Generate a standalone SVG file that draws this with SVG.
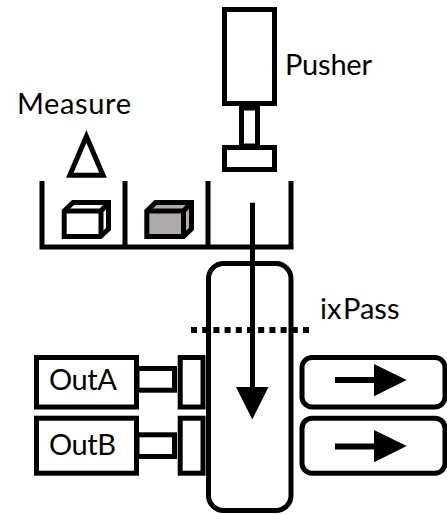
<svg xmlns="http://www.w3.org/2000/svg" width="447" height="514" viewBox="0 0 447 514">
<style>
.s{fill:#fff;stroke:#000;stroke-width:5}
.l{fill:none;stroke:#000;stroke-width:5}
.a{fill:none;stroke:#000;stroke-width:6}
.t{font-family:Lato,"Open Sans",sans-serif;font-size:29px;fill:#000}
</style>
<rect width="447" height="514" fill="#fff"/>
<g id="pusher">
<rect class="s" x="224.5" y="9.5" width="50" height="94"/>
<rect class="s" x="241.5" y="108" width="16" height="38"/>
<rect class="s" x="224.5" y="147.5" width="50" height="22"/>
<text class="t" x="285" y="75" textLength="87">Pusher</text>
</g>
<g id="measure">
<text class="t" x="17" y="114" textLength="114">Measure</text>
<path class="l" d="M86.400 136.400 L69.800 175.200 H103 Z" stroke-miterlimit="10"/>
</g>
<g id="tray">
<path class="l" d="M42 181V247H291V181M125 181V247M208 181V247"/>
</g>
<g id="cube1">
<path d="M64.200 211 L73 202.500 H108.500 V229 L100.500 236.500 H64.200 Z" class="s"/>
<path class="l" d="M64.200 211 H101 V236.500 M101 211 L108.500 202.500"/>
</g>
<g id="cube2">
<path d="M146.800 211 L155.500 202.500 H191.500 V229 L183.500 236.500 H146.800 Z" fill="#aeaaaa" stroke="#000" stroke-width="5"/>
<path class="l" d="M146.800 211 H183.500 V236.500 M183.500 211 L191.500 202.500"/>
</g>
<g id="conveyor">
<rect class="s" x="208.500" y="263.500" width="82.500" height="247" rx="15"/>
</g>
<g id="outA">
<rect class="s" x="36.500" y="357.500" width="100" height="49.500"/>
<rect class="s" x="137" y="368.500" width="37.500" height="21.700"/>
<rect class="s" x="180.200" y="357.500" width="22.800" height="49.500"/>
<text class="t" x="49" y="390" textLength="68">OutA</text>
</g>
<g id="outB">
<rect class="s" x="36.500" y="418.200" width="100" height="55"/>
<rect class="s" x="137" y="434.800" width="37.500" height="21.700"/>
<rect class="s" x="180.200" y="418.200" width="22.800" height="55"/>
<text class="t" x="49" y="455" textLength="67">OutB</text>
</g>
<g id="exit1">
<rect class="s" x="302" y="357.500" width="143" height="49.500" rx="10"/>
</g>
<g id="exit2">
<rect class="s" x="302" y="418.200" width="143" height="55" rx="10"/>
</g>
<g id="connectors">
<path class="l" d="M252.500 202.700V390"/>
<path d="M236 387H268.500L252.300 419.500Z"/>
<path class="a" d="M335 380H375"/>
<path d="M374 364L406.700 380L374 396.300Z"/>
<path class="a" d="M335 446.500H375"/>
<path d="M374 430L406.700 446L374 462.300Z"/>
<path d="M191 330H314" fill="none" stroke="#000" stroke-width="6" stroke-dasharray="6 5.200"/>
</g>
<text id="ixPass" class="t" y="319"><tspan x="320">ix</tspan><tspan x="343">Pass</tspan></text>
</svg>
